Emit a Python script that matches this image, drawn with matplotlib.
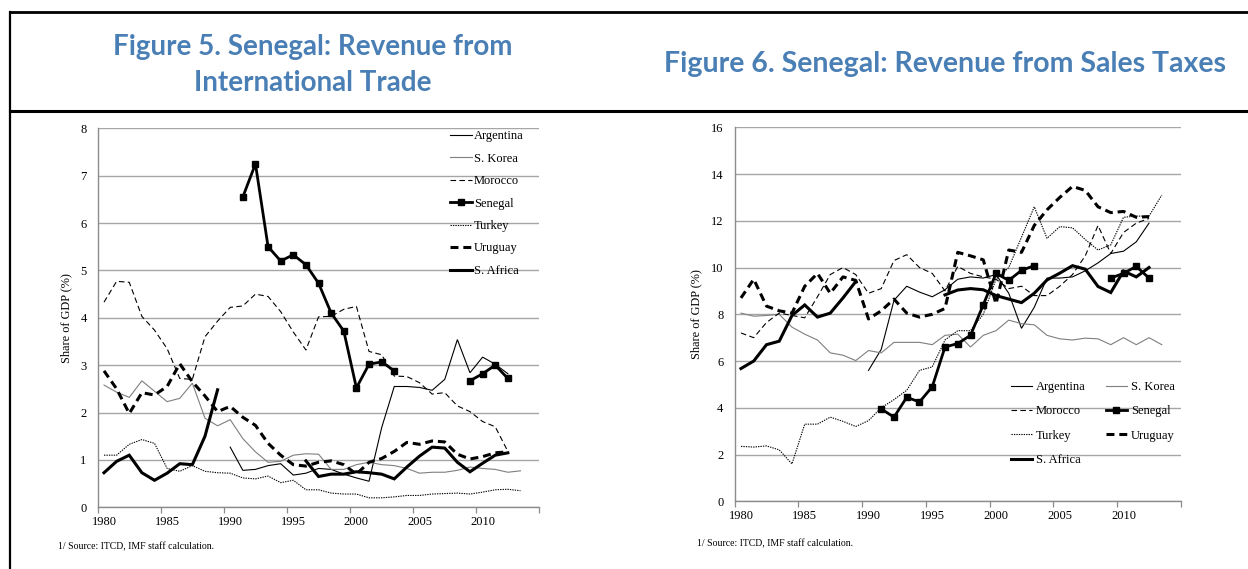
import numpy as np
import matplotlib
matplotlib.use("Agg")
import matplotlib.pyplot as plt
from matplotlib.lines import Line2D

nan = np.nan
years = list(range(1980, 2014))
tick_years = [1980, 1985, 1990, 1995, 2000, 2005, 2010]

# ---- Figure 5: revenue from international trade (% of GDP) ----
trade_argentina = [nan] * 10 + [1.27, 0.78, 0.80, 0.88, 0.92, 0.68, 0.72, 0.82, 0.80, 0.70,
                                0.62, 0.55, 1.68, 2.55, 2.55, 2.53, 2.47, 2.70, 3.54, 2.84,
                                3.17, 3.02, 2.82, nan]
trade_korea = [2.58, 2.43, 2.32, 2.67, 2.45, 2.23, 2.30, 2.62, 1.88, 1.72,
               1.85, 1.45, 1.17, 0.95, 0.97, 1.10, 1.13, 1.12, 0.80, 0.80,
               0.90, 0.95, 0.90, 0.88, 0.82, 0.72, 0.74, 0.74, 0.78, 0.85,
               0.82, 0.80, 0.74, 0.77]
trade_morocco = [4.33, 4.77, 4.75, 4.03, 3.74, 3.35, 2.72, 2.70, 3.60, 3.93,
                 4.22, 4.25, 4.50, 4.45, 4.13, 3.70, 3.32, 4.02, 4.03, 4.18,
                 4.24, 3.29, 3.22, 2.77, 2.76, 2.63, 2.39, 2.42, 2.14, 2.02,
                 1.81, 1.70, 1.18, nan]
trade_senegal = [nan] * 11 + [6.55, 7.25, 5.50, 5.20, 5.33, 5.12, 4.73, 4.10, 3.72,
                              2.52, 3.02, 3.07, 2.88] + [nan] * 5 + [2.67, 2.82, 3.00, 2.72, nan]
trade_turkey = [1.10, 1.10, 1.33, 1.43, 1.35, 0.82, 0.76, 0.88, 0.76, 0.73,
                0.72, 0.62, 0.60, 0.66, 0.52, 0.57, 0.37, 0.37, 0.30, 0.28,
                0.28, 0.20, 0.20, 0.22, 0.25, 0.25, 0.28, 0.29, 0.30, 0.28,
                0.32, 0.37, 0.38, 0.35]
trade_uruguay = [2.88, 2.50, 1.98, 2.42, 2.37, 2.55, 3.03, 2.65, 2.35, 2.02,
                 2.13, 1.90, 1.73, 1.35, 1.10, 0.90, 0.87, 0.95, 0.98, 0.90,
                 0.70, 0.95, 1.03, 1.18, 1.37, 1.33, 1.40, 1.38, 1.12, 1.02,
                 1.07, 1.15, 1.17, nan]
trade_safrica = [0.73, 0.97, 1.10, 0.73, 0.57, 0.72, 0.92, 0.90, 1.50, 2.48] + [nan] * 6 + \
                [0.98, 0.65, 0.70, 0.70, 0.75, 0.73, 0.70, 0.60, 0.85, 1.08,
                 1.27, 1.25, 0.95, 0.75, 0.93, 1.10, 1.15, nan]

# ---- Figure 6: revenue from sales taxes (% of GDP) ----
sales_argentina = [nan] * 10 + [5.60, 6.50, 8.60, 9.20, 8.95, 8.75, 9.05, 9.50, 9.60, 9.55,
                                9.70, 8.90, 7.40, 8.30, 9.55, 9.55, 9.60, 9.86, 10.20, 10.60,
                                10.70, 11.10, 11.90, nan]
sales_korea = [8.05, 7.92, 7.95, 8.00, 7.45, 7.15, 6.90, 6.35, 6.25, 6.02,
               6.45, 6.35, 6.80, 6.80, 6.80, 6.70, 7.10, 7.15, 6.60, 7.10,
               7.30, 7.75, 7.60, 7.55, 7.10, 6.95, 6.90, 6.98, 6.95, 6.70,
               7.00, 6.70, 7.00, 6.70]
sales_morocco = [7.20, 7.00, 7.65, 8.05, 7.95, 7.85, 8.75, 9.70, 10.00, 9.70,
                 8.90, 9.10, 10.30, 10.55, 10.00, 9.75, 9.00, 10.05, 9.75, 9.60,
                 9.50, 9.10, 9.20, 8.80, 8.80, 9.20, 9.70, 10.50, 11.80, 10.60,
                 11.50, 11.90, 12.10, nan]
sales_senegal = [nan] * 11 + [3.95, 3.60, 4.45, 4.25, 4.90, 6.60, 6.75, 7.10, 8.40,
                              9.75, 9.45, 9.88, 10.08] + [nan] * 5 + [9.55, 9.75, 10.05, 9.55, nan]
sales_turkey = [2.35, 2.32, 2.37, 2.20, 1.60, 3.30, 3.30, 3.60, 3.42, 3.20,
                3.45, 4.00, 4.35, 4.75, 5.60, 5.75, 6.90, 7.30, 7.30, 8.00,
                9.50, 10.00, 11.30, 12.60, 11.25, 11.75, 11.70, 11.20, 10.75, 10.97,
                12.15, 12.20, 12.20, 13.10]
sales_uruguay = [8.70, 9.50, 8.35, 8.15, 8.05, 9.20, 9.75, 8.90, 9.60, 9.45,
                 7.80, 8.15, 8.65, 8.05, 7.88, 8.00, 8.25, 10.65, 10.50, 10.33,
                 8.45, 10.75, 10.65, 11.80, 12.47, 13.00, 13.47, 13.30, 12.60, 12.35,
                 12.40, 12.15, 12.18, nan]
sales_safrica = [5.68, 6.00, 6.70, 6.85, 7.95, 8.40, 7.88, 8.05, 8.70, 9.40] + [nan] * 6 + \
                [8.83, 9.04, 9.10, 9.05, 8.80, 8.65, 8.50, 8.90, 9.47, 9.76,
                 10.08, 9.93, 9.19, 8.93, 9.85, 9.60, 10.00, nan]

countries = ["Argentina", "S. Korea", "Morocco", "Senegal", "Turkey", "Uruguay", "S. Africa"]
trade_series = [trade_argentina, trade_korea, trade_morocco, trade_senegal,
                trade_turkey, trade_uruguay, trade_safrica]
sales_series = [sales_argentina, sales_korea, sales_morocco, sales_senegal,
                sales_turkey, sales_uruguay, sales_safrica]

styles = {
    "Argentina": dict(color="black", lw=0.8, ls="-"),
    "S. Korea": dict(color="#7f7f7f", lw=0.8, ls="-"),
    "Morocco": dict(color="black", lw=0.8, ls=(0, (5, 3))),
    "Senegal": dict(color="black", lw=2.0, ls="-", marker="s", ms=4.2),
    "Turkey": dict(color="black", lw=0.8, ls=(0, (1.2, 1.0))),
    "Uruguay": dict(color="black", lw=2.2, ls=(0, (2.6, 1.6))),
    "S. Africa": dict(color="black", lw=2.2, ls="-"),
}

serif = "Liberation Serif"
W, H = 1248, 569
fig = plt.figure(figsize=(W / 100, H / 100), dpi=100)


def px_axes(x0, y_top, x1, y_bot):
    return fig.add_axes([x0 / W, 1 - y_bot / H, (x1 - x0) / W, (y_bot - y_top) / H])


def style_axes(ax, ymax, ystep):
    ax.set_xlim(1979.5, 2014.5)
    ax.set_ylim(0, ymax)
    ax.set_yticks(np.arange(0, ymax + 0.01, ystep))
    ax.set_xticks(tick_years)
    ax.set_xticks(np.arange(1979.5, 2015, 5), minor=True)
    ax.tick_params(axis="x", which="major", length=0, pad=6, labelsize=9)
    ax.tick_params(axis="x", which="minor", length=4, width=0.9, color="#8c8c8c")
    ax.tick_params(axis="y", length=0, pad=8, labelsize=9)
    for lab in ax.get_xticklabels() + ax.get_yticklabels():
        lab.set_fontfamily(serif)
    ax.grid(axis="y", color="#a6a6a6", lw=1.0)
    ax.set_axisbelow(True)
    for side in ("top", "right"):
        ax.spines[side].set_visible(False)
    for side in ("left", "bottom"):
        ax.spines[side].set_color("#8c8c8c")
        ax.spines[side].set_linewidth(1.0)
    ax.set_ylabel("Share of GDP (%)", fontfamily=serif, fontsize=8.8, labelpad=6)


def draw_lines(ax, series):
    handles = {}
    for name, vals in zip(countries, series):
        st = styles[name]
        h, = ax.plot(years, vals, color=st["color"], lw=st["lw"], ls=st["ls"],
                     marker=st.get("marker"), ms=st.get("ms", 0),
                     solid_joinstyle="miter", label=name)
        handles[name] = h
    return handles


# Left panel
ax1 = px_axes(97.7, 128.3, 539.4, 507.3)
style_axes(ax1, 8, 1)
h1 = draw_lines(ax1, trade_series)
ax1.legend(handles=[h1[c] for c in countries], loc="upper left",
           bbox_to_anchor=(450 / W, 1 - 130 / H),
           bbox_transform=fig.transFigure, frameon=False, borderpad=0, borderaxespad=0,
           handlelength=1.75, handletextpad=0.15, labelspacing=0.84,
           prop=dict(family=serif, size=9))

# Right panel: two-column legend filled row by row
ax2 = px_axes(734.6, 127.3, 1180.9, 501.3)
style_axes(ax2, 16, 2)
h2 = draw_lines(ax2, sales_series)
legend_order = ["Argentina", "Morocco", "Turkey", "S. Africa", "S. Korea", "Senegal", "Uruguay"]
ax2.legend(handles=[h2[c] for c in legend_order], loc="upper left",
           bbox_to_anchor=(1011 / W, 1 - 381 / H),
           bbox_transform=fig.transFigure, frameon=False, borderpad=0, borderaxespad=0,
           ncol=2, handlelength=1.7, handletextpad=0.3, labelspacing=0.99,
           columnspacing=1.6, prop=dict(family=serif, size=9))

# Titles
title_color = "#4a7fb5"
fig.text(313 / W, 1 - 65 / H, "Figure 5. Senegal: Revenue from\nInternational Trade",
         ha="center", va="center", fontsize=20, fontweight="bold", color=title_color,
         fontfamily="Lato", linespacing=1.45)
fig.text(945 / W, 1 - 64 / H, "Figure 6. Senegal: Revenue from Sales Taxes",
         ha="center", va="center", fontsize=20.5, fontweight="bold", color=title_color,
         fontfamily="Lato")

# Source notes
fig.text(58 / W, 1 - 547 / H, "1/ Source: ITCD, IMF staff calculation.",
         ha="left", va="center", fontsize=7, fontfamily=serif)
fig.text(697 / W, 1 - 544 / H, "1/ Source: ITCD, IMF staff calculation.",
         ha="left", va="center", fontsize=7, fontfamily=serif)

# Table frame around the two figures
frame = [
    ([10, W], [12, 12], 2.0),
    ([10, W], [111, 111], 2.2),
    ([10, 10], [12, H], 1.6),
]
for xs, ys, lw in frame:
    fig.add_artist(Line2D([x / W for x in xs], [1 - y / H for y in ys],
                          transform=fig.transFigure, color="black", lw=lw))

fig.savefig("out.png", dpi=100)
